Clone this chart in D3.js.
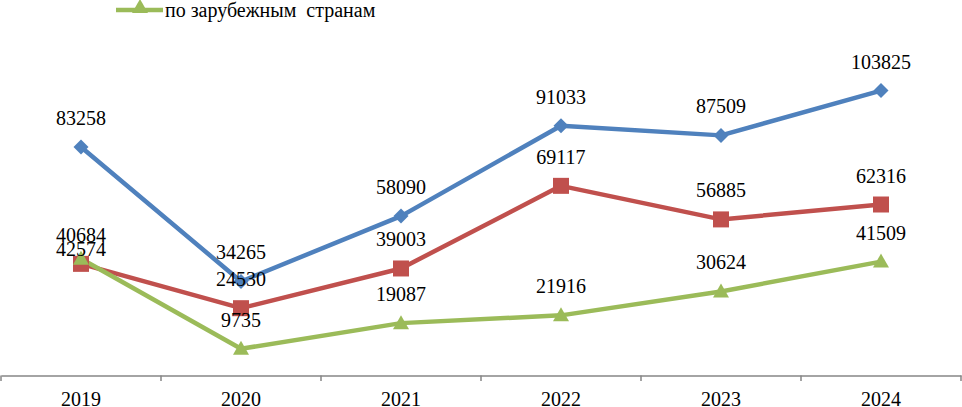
<!DOCTYPE html>
<html>
<head>
<meta charset="utf-8">
<script src="https://cdn.jsdelivr.net/npm/d3@7"></script>
<style>
  body { margin: 0; background: #fff; }
  svg { display: block; }
</style>
</head>
<body>
<div id="chart"></div>
<script>
const years = ["2019", "2020", "2021", "2022", "2023", "2024"];
const totalValues = [83258, 34265, 58090, 91033, 87509, 103825];
const russiaValues = [40684, 24530, 39003, 69117, 56885, 62316];
const abroadValues = [42574, 9735, 19087, 21916, 30624, 41509];
const legendLabel = "по зарубежным  странам";

const width = 962, height = 407;
const FONT = "'Liberation Serif', 'Times New Roman', 'DejaVu Serif', serif";

const svg = d3.select("#chart")
  .append("svg")
  .attr("width", width)
  .attr("height", height)
  .attr("font-family", FONT);

// categories sit in bands between tick marks
const x = d3.scaleBand()
  .domain(years)
  .range([1, 961]);

const y = d3.scaleLinear()
  .domain([0, 120000])
  .range([375.5, 375.5 - 120000 * 0.002744]);

// x axis: just the baseline, ticks drawn on band edges below
const xAxis = svg.append("g")
  .attr("transform", "translate(0,375.5)")
  .call(d3.axisBottom(x).tickSize(0).tickPadding(0).tickFormat(""));
xAxis.select(".domain").attr("stroke", "#868686").attr("stroke-width", 1.5);

const tickEdges = years.map(d => x(d)).concat([x.range()[1]]);

svg.append("g")
  .selectAll("line")
  .data(tickEdges)
  .enter()
  .append("line")
  .attr("x1", d => d)
  .attr("x2", d => d)
  .attr("y1", 375.5)
  .attr("y2", 381)
  .attr("stroke", "#868686")
  .attr("stroke-width", 1.5);

svg.append("g")
  .selectAll("text")
  .data(years)
  .enter()
  .append("text")
  .attr("x", d => x(d) + x.bandwidth() / 2)
  .attr("y", 406)
  .attr("text-anchor", "middle")
  .style("font-size", "20px")
  .text(d => d);

const series = [
  { name: "total", values: totalValues, color: "#4F81BD", marker: "diamond" },
  { name: "russia", values: russiaValues, color: "#C0504D", marker: "square" },
  { name: "abroad", values: abroadValues, color: "#9BBB59", marker: "triangle" }
];

const cx = (d, i) => x(years[i]) + x.bandwidth() / 2;

const line = d3.line()
  .x(cx)
  .y(d => y(d));

svg.selectAll("myLines")
  .data(series)
  .enter()
  .append("path")
  .attr("d", d => line(d.values))
  .attr("stroke", d => d.color)
  .attr("stroke-width", 4.5)
  .attr("stroke-linejoin", "round")
  .attr("fill", "none");

const markerPath = marker => {
  if (marker === "diamond") return "M0,-7.5L7.5,0L0,7.5L-7.5,0Z";
  if (marker === "square") return "M-8,-8H8V8H-8Z";
  return "M0,-8L8,6H-8Z";
};

svg.selectAll("myDots")
  .data(series)
  .enter()
  .append("g")
  .attr("fill", d => d.color)
  .each(function (s) {
    d3.select(this)
      .selectAll("path")
      .data(s.values)
      .enter()
      .append("path")
      .attr("transform", (d, i) => `translate(${cx(d, i)},${y(d)})`)
      .attr("d", markerPath(s.marker));
  });

// value labels above each point; the first "abroad" label sits
// lower in the original, just under the "russia" one
const labelDy = (s, i) => (s.name === "abroad" && i === 0) ? -3 : -22;

svg.selectAll("myLabels")
  .data(series)
  .enter()
  .append("g")
  .each(function (s) {
    d3.select(this)
      .selectAll("text")
      .data(s.values)
      .enter()
      .append("text")
      .attr("x", cx)
      .attr("y", (d, i) => y(d) + labelDy(s, i))
      .attr("text-anchor", "middle")
      .style("font-size", "20px")
      .text(d => d);
  });

// legend (only the last entry is visible in the frame)
const legend = svg.append("g");
legend.append("line")
  .attr("x1", 116).attr("x2", 163)
  .attr("y1", 10).attr("y2", 10)
  .attr("stroke", "#9BBB59")
  .attr("stroke-width", 4.5);
legend.append("path")
  .attr("transform", "translate(140,7)")
  .attr("d", markerPath("triangle"))
  .attr("fill", "#9BBB59");
legend.append("text")
  .attr("x", 165)
  .attr("y", 17)
  .style("font-size", "20px")
  .style("white-space", "pre")
  .text(legendLabel);
</script>
</body>
</html>
